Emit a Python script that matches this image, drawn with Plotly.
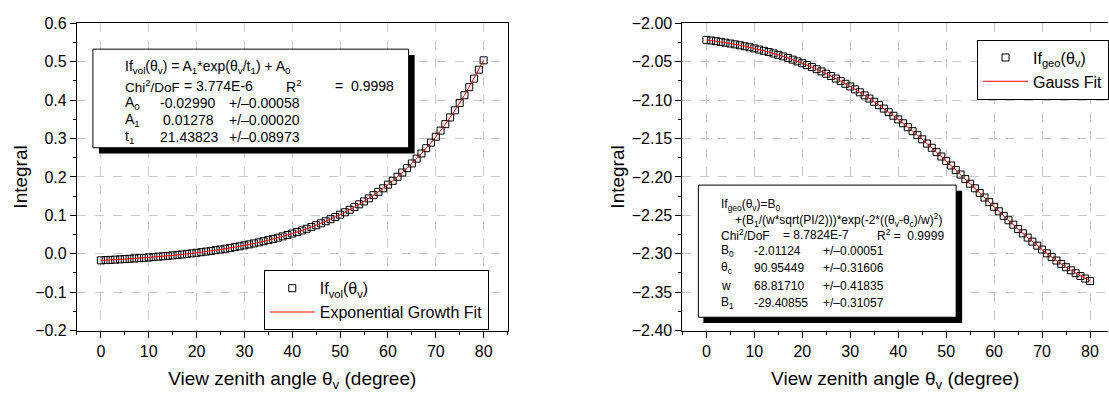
import plotly.graph_objects as go

# ---------------- data ----------------
theta = list(range(0, 81))

if_vol = [-0.0171, -0.0165, -0.0159, -0.0152, -0.0145, -0.0138, -0.0130, -0.0122, -0.0113, -0.0105,
          -0.0095, -0.0086, -0.0075, -0.0065, -0.0054, -0.0042, -0.0029, -0.0017, -0.0003, 0.0011,
          0.0026, 0.0041, 0.0058, 0.0075, 0.0093, 0.0111, 0.0131, 0.0151, 0.0173, 0.0195,
          0.0219, 0.0244, 0.0270, 0.0297, 0.0325, 0.0355, 0.0386, 0.0419, 0.0453, 0.0489,
          0.0527, 0.0566, 0.0607, 0.0651, 0.0696, 0.0744, 0.0793, 0.0846, 0.0900, 0.0957,
          0.1018, 0.1080, 0.1146, 0.1215, 0.1288, 0.1363, 0.1443, 0.1526, 0.1613, 0.1704,
          0.1800, 0.1900, 0.2005, 0.2115, 0.2230, 0.2351, 0.2478, 0.2610, 0.2749, 0.2895,
          0.3047, 0.3207, 0.3375, 0.3550, 0.3734, 0.3926, 0.4128, 0.4339, 0.4561, 0.4793,
          0.5036]

if_geo = [-2.0216, -2.0224, -2.0233, -2.0242, -2.0252, -2.0263, -2.0274, -2.0286, -2.0299, -2.0312,
          -2.0327, -2.0342, -2.0358, -2.0374, -2.0392, -2.0411, -2.0430, -2.0451, -2.0473, -2.0495,
          -2.0519, -2.0544, -2.0570, -2.0597, -2.0626, -2.0656, -2.0686, -2.0719, -2.0752, -2.0787,
          -2.0822, -2.0860, -2.0898, -2.0938, -2.0979, -2.1021, -2.1065, -2.1110, -2.1156, -2.1203,
          -2.1251, -2.1301, -2.1352, -2.1404, -2.1456, -2.1510, -2.1565, -2.1620, -2.1677, -2.1734,
          -2.1792, -2.1850, -2.1909, -2.1968, -2.2028, -2.2088, -2.2148, -2.2208, -2.2268, -2.2328,
          -2.2388, -2.2447, -2.2506, -2.2564, -2.2621, -2.2678, -2.2734, -2.2789, -2.2842, -2.2894,
          -2.2945, -2.2994, -2.3042, -2.3088, -2.3132, -2.3175, -2.3215, -2.3253, -2.3289, -2.3322,
          -2.3354]

fit_theta = [0, 5, 10, 15, 20, 25, 30, 35, 40, 45, 50, 55, 60, 65, 70, 75, 80]
exp_fit = [-0.0171, -0.0138, -0.0095, -0.0042, 0.0026, 0.0111, 0.0219, 0.0355, 0.0527,
           0.0744, 0.1018, 0.1363, 0.1800, 0.2351, 0.3047, 0.3926, 0.5036]
gauss_fit = [-2.0216, -2.0263, -2.0327, -2.0411, -2.0519, -2.0656, -2.0822, -2.1021, -2.1251,
             -2.1510, -2.1792, -2.2088, -2.2388, -2.2678, -2.2945, -2.3175, -2.3354]

x_ticks = [0, 10, 20, 30, 40, 50, 60, 70, 80]

# ---------------- helpers ----------------
W, H = 1109, 398
FONT = "Arial, Liberation Sans, sans-serif"


def px(x):
    return x / W


def py(y):
    return 1 - y / H


fig = go.Figure()

fig.add_trace(go.Scatter(x=theta, y=if_vol, mode="markers", xaxis="x", yaxis="y",
                         name="If<sub>vol</sub>(θ<sub>v</sub>)", legend="legend",
                         marker=dict(symbol="square-open", size=7, color="black",
                                     line=dict(width=1, color="black"))))
fig.add_trace(go.Scatter(x=fit_theta, y=exp_fit, mode="lines", xaxis="x", yaxis="y",
                         name="Exponential Growth Fit", legend="legend",
                         line=dict(color="red", width=1, shape="spline")))
fig.add_trace(go.Scatter(x=theta, y=if_geo, mode="markers", xaxis="x2", yaxis="y2",
                         name="If<sub>geo</sub>(θ<sub>v</sub>)", legend="legend2",
                         marker=dict(symbol="square-open", size=7, color="black",
                                     line=dict(width=1, color="black"))))
fig.add_trace(go.Scatter(x=fit_theta, y=gauss_fit, mode="lines", xaxis="x2", yaxis="y2",
                         name="Gauss Fit", legend="legend2",
                         line=dict(color="red", width=1, shape="spline")))

ydom = [py(337), py(16)]
common_x = dict(tickmode="array", tickvals=x_ticks, ticks="outside", ticklen=6, tickwidth=1,
                tickcolor="black", showline=True, linecolor="black", linewidth=1,
                showgrid=True, gridcolor="#c8c8c8", griddash="dash", gridwidth=1,
                zeroline=False, tickfont=dict(size=16, color="black", family=FONT),
                minor=dict(dtick=5, tick0=0, ticks="outside", ticklen=3, tickcolor="black",
                           showgrid=False),
                title=dict(text="View zenith angle θ<sub>v</sub> (degree)",
                           font=dict(size=19, color="black", family=FONT), standoff=12))
common_y = dict(ticks="outside", ticklen=6, tickwidth=1, tickcolor="black", showline=True,
                linecolor="black", linewidth=1, showgrid=True, gridcolor="#c8c8c8",
                griddash="dash", gridwidth=1, zeroline=False,
                tickfont=dict(size=16, color="black", family=FONT),
                title=dict(text="Integral", font=dict(size=19, color="black", family=FONT),
                           standoff=2))

fig.update_layout(
    width=W, height=H, margin=dict(l=0, r=0, t=0, b=0),
    paper_bgcolor="white", plot_bgcolor="white",
    font=dict(family=FONT, color="black"),
    xaxis=dict(domain=[px(77), px(508)], range=[-5, 85], anchor="y", mirror=True, **common_x),
    yaxis=dict(domain=ydom, range=[-0.2, 0.6], anchor="x", dtick=0.1, tick0=0, tickformat=".1f",
               mirror=True, minor=dict(dtick=0.05, ticks="outside", ticklen=3, tickcolor="black",
                                       showgrid=False), **common_y),
    xaxis2=dict(domain=[px(683), 1.0], range=[-5, 83.75], anchor="y2", mirror=True, **common_x),
    yaxis2=dict(domain=ydom, range=[-2.4, -2.0], anchor="x2", dtick=0.05, tick0=-2.0,
                tickformat=".2f", mirror=False,
                minor=dict(dtick=0.025, ticks="outside", ticklen=3, tickcolor="black",
                           showgrid=False), **common_y),
    legend=dict(x=px(264), y=py(274), xanchor="left", yanchor="top", bgcolor="white",
                bordercolor="black", borderwidth=1, font=dict(size=16, family=FONT),
                tracegroupgap=0, itemwidth=45),
    legend2=dict(x=px(978), y=py(33), xanchor="left", yanchor="top", bgcolor="white",
                 bordercolor="black", borderwidth=1, font=dict(size=16, family=FONT),
                 tracegroupgap=0, itemwidth=45),
    showlegend=True,
)

shapes = []
# left parameter box with shadow
shapes.append(dict(type="rect", xref="paper", yref="paper", x0=px(99), x1=px(415),
                   y0=py(152), y1=py(49), fillcolor="black", line=dict(width=0), layer="above"))
shapes.append(dict(type="rect", xref="paper", yref="paper", x0=px(93), x1=px(409),
                   y0=py(146), y1=py(43), fillcolor="white", line=dict(width=1, color="black"),
                   layer="above"))
# right parameter box with shadow
shapes.append(dict(type="rect", xref="paper", yref="paper", x0=px(704), x1=px(963),
                   y0=py(329), y1=py(191), fillcolor="black", line=dict(width=0), layer="above"))
shapes.append(dict(type="rect", xref="paper", yref="paper", x0=px(699), x1=px(957),
                   y0=py(323), y1=py(185), fillcolor="white", line=dict(width=1, color="black"),
                   layer="above"))
fig.update_layout(shapes=shapes)

ann = []


def txt(x, y, s, size):
    ann.append(dict(xref="paper", yref="paper", x=px(x), y=py(y), xanchor="left",
                    yanchor="middle", text=s, showarrow=False,
                    font=dict(size=size, color="black", family=FONT)))


# left box text
s = 14
txt(123, 62, "If<sub>vol</sub>(θ<sub>v</sub>) = A<sub>1</sub>*exp(θ<sub>v</sub>/t<sub>1</sub>) + A<sub>0</sub>", s)
txt(123, 81, "Chi<sup>2</sup>/DoF", 13.5)
txt(182, 81, "= 3.774E-6", s)
txt(284, 81, "R<sup>2</sup>", s)
txt(333, 81, "=  0.9998", s)
rows_l = [("A<sub>0</sub>", "-0.02990", "+/–0.00058", 99, 158),
          ("A<sub>1</sub>", "0.01278", "+/–0.00020", 117, 161),
          ("t<sub>1</sub>", "21.43823", "+/–0.08973", 135, 158)]
for a, b, c, yy, xb in rows_l:
    txt(123, yy, a, s)
    txt(xb, yy, b, s)
    txt(227, yy, c, s)

# right box text
s2 = 12
txt(720, 206, "If<sub>geo</sub>(θ<sub>v</sub>)=B<sub>0</sub>", s2)
txt(734, 221, "+(B<sub>1</sub>/(w*sqrt(PI/2)))*exp(-2*((θ<sub>v</sub>-θ<sub>c</sub>)/w)<sup>2</sup>)", s2)
txt(720, 237, "Chi<sup>2</sup>/DoF", s2)
txt(782, 237, "= 8.7824E-7", s2)
txt(876, 237, "R<sup>2</sup> =  0.9999", s2)
rows_r = [("B<sub>0</sub>", "-2.01124", "+/–0.00051", 254),
          ("θ<sub>c</sub>", "90.95449", "+/–0.31606", 272),
          ("w", "68.81710", "+/–0.41835", 290),
          ("B<sub>1</sub>", "-29.40855", "+/–0.31057", 308)]
for a, b, c, yy in rows_r:
    txt(720, yy, a, s2)
    txt(753, yy, b, s2)
    txt(822, yy, c, s2)

fig.update_layout(annotations=ann)

fig.write_html("out.html")
